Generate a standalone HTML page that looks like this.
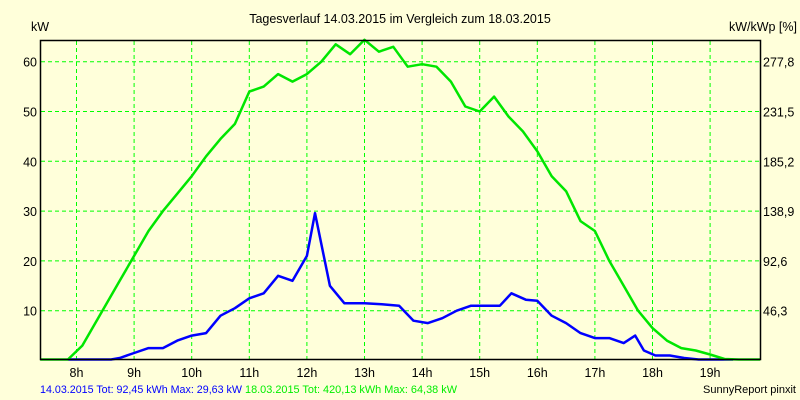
<!DOCTYPE html>
<html><head><meta charset="utf-8"><style>
body{margin:0;background:#ffffda;}
svg{display:block;font-family:"Liberation Sans",Arial,sans-serif;}
</style></head><body>
<svg id="chart" width="800" height="400">
<rect x="0" y="0" width="800" height="400" fill="#ffffda"/>
<text x="400" y="23" font-size="12.5" text-anchor="middle" fill="#000">Tagesverlauf 14.03.2015 im Vergleich zum 18.03.2015</text>
<text x="31" y="31" font-size="12.5" fill="#000">kW</text>
<text x="797" y="31" font-size="12.5" text-anchor="end" fill="#000">kW/kWp [%]</text>
<g id="grid"></g>
<g id="series"></g>
<rect x="40.5" y="40.5" width="720" height="319" fill="none" stroke="#000" stroke-width="1.5"/>
<g id="labels"></g>
<text x="40" y="393" font-size="11" fill="#0000ff" textLength="202" lengthAdjust="spacingAndGlyphs">14.03.2015 Tot: 92,45 kWh Max: 29,63 kW</text>
<text x="245" y="393" font-size="11" fill="#00ee00" textLength="212" lengthAdjust="spacingAndGlyphs">18.03.2015 Tot: 420,13 kWh Max: 64,38 kW</text>
<text x="796" y="393" font-size="11" text-anchor="end" fill="#000">SunnyReport pinxit</text>
</svg>
<script>
const hourTicks = [8,9,10,11,12,13,14,15,16,17,18,19];
const kwTicks = [10,20,30,40,50,60];
const pctTicks = ["46,3","92,6","138,9","185,2","231,5","277,8"];
const greenTimes = [7.37,7.85,8.1,8.5,8.75,9,9.25,9.5,9.75,10,10.25,10.5,10.75,11,11.25,11.5,11.75,12,12.25,12.5,12.75,13,13.25,13.5,13.75,14,14.25,14.5,14.75,15,15.25,15.5,15.75,16,16.25,16.5,16.75,17,17.25,17.5,17.75,18,18.25,18.5,18.75,19,19.25,19.5,19.87];
const greenVals = [0,0,3,11,16,21,26,30,33.5,37,41,44.5,47.5,54,55,57.5,56,57.5,60,63.5,61.5,64.4,62,63,59,59.5,59,56,51,50,53,49,46,42,37,34,28,26,20,15,10,6.5,4,2.5,2,1.2,0.3,0,0];
const blueTimes = [7.85,8.6,8.75,9,9.25,9.5,9.75,10,10.25,10.5,10.75,11,11.25,11.5,11.75,12,12.14,12.4,12.65,13.0,13.3,13.6,13.85,14.1,14.35,14.6,14.85,15.1,15.35,15.55,15.8,16.0,16.25,16.5,16.75,17.0,17.25,17.5,17.7,17.85,18.05,18.3,18.55,18.8,19.2,19.4];
const blueVals = [0,0,0.5,1.5,2.5,2.5,4,5,5.5,9,10.5,12.5,13.5,17,16,21,29.6,15,11.5,11.5,11.3,11,8,7.5,8.5,10,11,11,11,13.5,12.2,12,9,7.5,5.5,4.5,4.5,3.5,5,2,1,1,0.5,0,0,0];
const xOf = h => 76.5 + (h - 8) * 57.6;
const yOf = v => Math.min(359.5, 360.5 - v * 4.98);
const NS = "http://www.w3.org/2000/svg";
const grid = document.getElementById("grid"), labels = document.getElementById("labels"), series = document.getElementById("series");
hourTicks.forEach(h => {
  const l = document.createElementNS(NS, "line");
  
  
  l.setAttribute("x1", xOf(h)); l.setAttribute("x2", xOf(h)); l.setAttribute("y1", 41); l.setAttribute("y2", 359);
  l.setAttribute("stroke", "#00ff00"); l.setAttribute("stroke-dasharray", "4,3");
  grid.appendChild(l);
  const t = document.createElementNS(NS, "text");
  
  
  t.setAttribute("x", xOf(h)); t.setAttribute("y", 377); t.setAttribute("font-size", "12.5"); t.setAttribute("text-anchor", "middle");
  t.textContent = h + "h"; labels.appendChild(t);
});
kwTicks.forEach((v, i) => {
  const l = document.createElementNS(NS, "line");
  
  
  l.setAttribute("x1", 41); l.setAttribute("x2", 760); l.setAttribute("y1", yOf(v)); l.setAttribute("y2", yOf(v));
  l.setAttribute("stroke", "#00ff00"); l.setAttribute("stroke-dasharray", "4,3");
  grid.appendChild(l);
  const t = document.createElementNS(NS, "text");
  
  
  t.setAttribute("x", 37); t.setAttribute("y", yOf(v) + 5); t.setAttribute("font-size", "12.5"); t.setAttribute("text-anchor", "end");
  t.textContent = v; labels.appendChild(t);
  const r = document.createElementNS(NS, "text");
  
  
  r.setAttribute("x", 763); r.setAttribute("y", yOf(v) + 5); r.setAttribute("font-size", "12.5");
  r.textContent = pctTicks[i]; labels.appendChild(r);
});
function line(times, vals, color, name) {
  const p = document.createElementNS(NS, "polyline");
  
  
  p.setAttribute("points", times.map((t, i) => xOf(t).toFixed(1) + "," + yOf(vals[i]).toFixed(1)).join(" "));
  p.setAttribute("fill", "none"); p.setAttribute("stroke", color); p.setAttribute("stroke-width", "2.5"); p.setAttribute("stroke-linejoin", "round");
  series.appendChild(p);
}
line(blueTimes, blueVals, "#0000ff", "series-14-03-2015");
line(greenTimes, greenVals, "#00e600", "series-18-03-2015");
</script>
</body></html>
